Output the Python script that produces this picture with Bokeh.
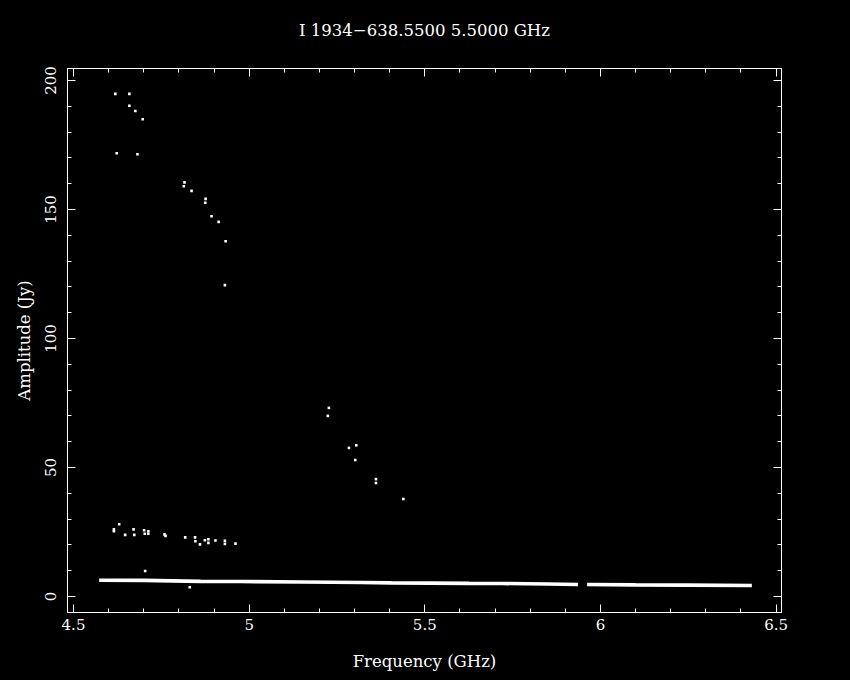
from bokeh.plotting import figure
from bokeh.models import Range1d, LinearAxis, FixedTicker
from bokeh.embed import file_html
from bokeh.resources import INLINE
import numpy as np

TITLE = "I 1934\u2212638.5500 5.5000 GHz"
X_LABEL = "Frequency (GHz)"
Y_LABEL = "Amplitude (Jy)"

x_ticks = [4.5, 5.0, 5.5, 6.0, 6.5]
x_tick_labels = ["4.5", "5", "5.5", "6", "6.5"]
y_ticks = [0, 50, 100, 150, 200]
y_tick_labels = ["0", "50", "100", "150", "200"]

# scattered visibility points (GHz, Jy)
pt_freq = [4.619, 4.659, 4.659, 4.676, 4.697, 4.623, 4.682, 4.816, 4.814, 4.836,
           4.876, 4.875, 4.893, 4.913, 4.933, 4.931,
           5.227, 5.224, 5.305, 5.284, 5.302, 5.361, 5.361, 5.439,
           4.630, 4.615, 4.615, 4.647, 4.671, 4.673, 4.701, 4.703, 4.713, 4.713,
           4.759, 4.762, 4.818, 4.846, 4.847, 4.860, 4.874, 4.884, 4.884, 4.904,
           4.931, 4.931, 4.961, 4.704, 4.831]
pt_amp = [194.8, 194.8, 190.2, 188.2, 185.0, 171.8, 171.4, 160.5, 159.0, 157.2,
          154.1, 152.6, 147.4, 145.2, 137.7, 120.7,
          73.1, 70.0, 58.6, 57.6, 52.9, 45.5, 44.0, 37.8,
          28.0, 26.0, 25.3, 23.9, 26.0, 23.9, 25.7, 24.3, 25.3, 24.3,
          24.1, 23.5, 22.9, 22.9, 21.4, 20.2, 21.8, 22.2, 20.8, 21.7,
          21.6, 20.4, 20.5, 9.9, 3.6]

# dense band of points (read as its centre line), two stretches
band1_freq = [4.573, 4.700, 4.862, 4.976, 5.150, 5.319, 5.405, 5.626, 5.719, 5.850, 5.936]
band1_amp = [6.3, 6.25, 5.85, 5.8, 5.6, 5.43, 5.27, 5.08, 5.04, 4.85, 4.65]
band2_freq = [5.962, 6.100, 6.250, 6.431]
band2_amp = [4.65, 4.5, 4.4, 4.26]

FONT = "DejaVu Serif"
WHITE = "#ffffff"

p = figure(width=850, height=680, output_backend="svg", toolbar_location=None,
           x_range=Range1d(4.4829, 6.5154), y_range=Range1d(-6.2, 204.65),
           frame_width=714, frame_height=544,
           min_border_left=67, min_border_right=69, min_border_top=68, min_border_bottom=68,
           background_fill_color="black", border_fill_color="black",
           x_axis_location=None, y_axis_location=None)
p.grid.visible = False
p.outline_line_color = WHITE
p.outline_line_width = 1

x_minor = [round(v, 2) for v in np.arange(4.5, 6.51, 0.1)]
y_minor = list(range(0, 201, 10))

def style_axis(ax, ticks, minor, labels, show):
    ax.ticker = FixedTicker(ticks=ticks, minor_ticks=minor)
    ax.axis_line_color = WHITE
    ax.major_tick_line_color = WHITE
    ax.minor_tick_line_color = WHITE
    ax.major_tick_in = 8
    ax.major_tick_out = 0
    ax.minor_tick_in = 4
    ax.minor_tick_out = 0
    ax.major_label_text_color = WHITE
    ax.major_label_text_font = FONT
    ax.major_label_text_font_size = "15px"
    ax.axis_label_text_color = WHITE
    ax.axis_label_text_font = FONT
    ax.axis_label_text_font_size = "16.5px"
    ax.axis_label_text_font_style = "normal"
    if show:
        ax.major_label_overrides = {t: l for t, l in zip(ticks, labels)}
    else:
        ax.major_label_overrides = {t: "" for t in ticks}
        ax.major_label_standoff = 0

xb = LinearAxis(axis_label=X_LABEL)
style_axis(xb, x_ticks, x_minor, x_tick_labels, True)
xb.major_label_standoff = 6
xb.axis_label_standoff = 19
p.add_layout(xb, "below")

# top axis carries the plot title as its label
xt = LinearAxis(axis_label=TITLE)
style_axis(xt, x_ticks, x_minor, x_tick_labels, False)
xt.axis_label_standoff = 29
p.add_layout(xt, "above")

yl = LinearAxis(axis_label=Y_LABEL)
style_axis(yl, y_ticks, y_minor, y_tick_labels, True)
yl.major_label_orientation = "vertical"
yl.major_label_standoff = 11
yl.axis_label_standoff = 9
p.add_layout(yl, "left")

yr = LinearAxis()
style_axis(yr, y_ticks, y_minor, y_tick_labels, False)
p.add_layout(yr, "right")

for bf, ba in ((band1_freq, band1_amp), (band2_freq, band2_amp)):
    p.line(bf, ba, line_color=WHITE, line_width=3.6, line_cap="butt")

p.scatter(pt_freq, pt_amp, marker="square", size=2.6, fill_color=WHITE, line_color=None)

html = file_html(p, INLINE)
html = html.replace("<head>", "<head><style>html,body{background:#000;}</style>", 1)
open("out.html", "w").write(html)
